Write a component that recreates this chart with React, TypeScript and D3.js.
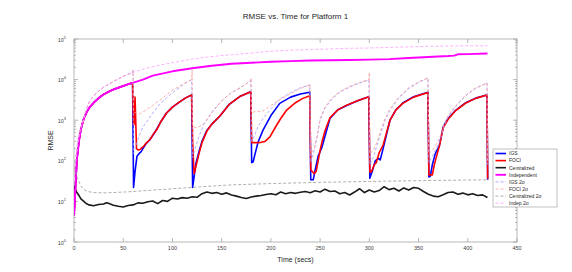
import React from 'react'
import * as d3 from 'd3'

type Pt = [number, number]

// x: time (secs), y: RMSE
const xTicks = [0, 50, 100, 150, 200, 250, 300, 350, 400, 450]
const yDecades = [0, 1, 2, 3, 4, 5]

const indep: Pt[] = [
  [0, 4.5], [1, 12], [2, 40], [3, 110], [5, 300], [7, 600], [10, 1100], [13, 1600],
  [16, 2100], [20, 2700], [25, 3500], [30, 4300], [35, 5000], [40, 5700], [45, 6300],
  [50, 7000], [55, 7700], [59.5, 8300], [70, 10000], [80, 12500], [100, 16000],
  [120, 19000], [140, 22000], [160, 24500], [180, 26000], [200, 27500], [220, 28500],
  [240, 29500], [260, 30000], [280, 30500], [300, 31000], [320, 32000], [340, 34000],
  [360, 36000], [380, 38000], [386, 39000], [390, 42000], [400, 42500], [420, 44000]
]

const indep2s: Pt[] = [
  [0, 40], [2, 120], [4, 300], [6, 550], [9, 900], [12, 1700], [16, 3000], [20, 4000],
  [25, 5200], [30, 6500], [35, 7600], [40, 9000], [50, 12000], [59.5, 15000], [70, 18000],
  [80, 21000], [100, 26000], [120, 32000], [140, 37000], [160, 41000], [180, 45000],
  [200, 50000], [220, 53000], [240, 55000], [260, 57000], [280, 59000], [300, 60000],
  [320, 62000], [340, 64000], [360, 66000], [380, 67000], [400, 68000], [420, 68000]
]

const igsAfter: Pt[] = [
  [60.5, 22], [62, 55], [64, 130], [66, 150], [68, 165], [70, 200], [73, 260], [77, 330],
  [80, 420], [84, 600], [88, 900], [94, 1500], [100, 2100], [107, 2800], [113, 3500], [119.5, 4200],
  [120.5, 22], [122, 40], [124, 90], [127, 170], [130, 300], [135, 560], [140, 800], [148, 1250],
  [158, 2500], [169, 3900], [179.5, 5000],
  [180.5, 90], [182, 95], [184, 150], [187, 290], [192, 570], [200, 1300], [209, 2600],
  [220, 3700], [230, 4400], [239.5, 4900],
  [240.5, 34], [243, 34], [245, 60], [248, 130], [252, 220], [256, 500], [260, 1100],
  [268, 1800], [277, 2300], [288, 3000], [299.5, 3800],
  [300.5, 37], [303, 55], [306, 100], [309, 115], [311, 105], [314, 200], [318, 500],
  [321, 1000], [327, 1800], [334, 2650], [345, 3800], [359.5, 4900],
  [360.5, 40], [362, 42], [364, 80], [367, 150], [371, 230], [375, 680], [380, 1100],
  [388, 1780], [398, 2700], [408, 3500], [419.5, 4200], [420.2, 34]
]

const fociAfter: Pt[] = [
  [60.5, 760], [61, 800], [62, 3700], [62.5, 1500], [63.5, 200], [65, 185], [67, 190],
  [69, 210], [71, 230], [73, 270], [77, 330], [80, 430], [84, 580], [88, 900], [94, 1500],
  [100, 2100], [107, 2800], [113, 3500], [119.5, 4200],
  [120.5, 300], [122, 48], [124, 75], [127, 150], [130, 280], [135, 540], [140, 800],
  [148, 1250], [158, 2500], [169, 3900], [179.5, 5000],
  [180.5, 280], [185, 280], [190, 285], [194, 300], [199, 390], [205, 700], [210, 1100],
  [216, 1780], [225, 2700], [232, 3400], [239.5, 4000],
  [240.5, 60], [244, 48], [246, 55], [248, 100], [250, 180], [252, 300], [255, 550],
  [260, 1150], [268, 1800], [277, 2350], [288, 3000], [299.5, 3800],
  [300.5, 53], [302, 53], [305, 80], [307, 90], [310, 160], [314, 245], [318, 550],
  [321, 1000], [327, 1800], [334, 2600], [345, 3700], [359.5, 4800],
  [360.5, 45], [364, 45], [366, 80], [369, 150], [371, 220], [375, 650], [380, 1050],
  [388, 1750], [398, 2650], [408, 3450], [419.5, 4200], [420.2, 36]
]

const igs2sAfter: Pt[] = [
  [60, 17000], [60.5, 150], [62, 200], [66, 400], [70, 680], [75, 1000], [80, 1500],
  [87, 2500], [94, 3500], [100, 4800], [107, 6300], [112, 8000], [119.5, 10000],
  [120.5, 120], [123, 200], [127, 400], [132, 800], [140, 1600], [150, 3000], [160, 4800],
  [169, 6300], [179.5, 9500],
  [180.5, 300], [183, 400], [187, 700], [192, 1100], [200, 1900], [209, 3300], [220, 4800],
  [230, 6300], [239.5, 7400],
  [240.5, 90], [243, 150], [246, 300], [250, 1000], [255, 2000], [262, 3300], [270, 4900],
  [280, 6500], [290, 8200], [299.5, 9800],
  [300.5, 80], [304, 120], [308, 250], [312, 500], [316, 1000], [321, 1780], [330, 3500],
  [340, 6000], [350, 8500], [359.5, 11000],
  [360.5, 90], [364, 130], [368, 200], [372, 320], [376, 700], [380, 1200], [388, 2200],
  [398, 4000], [408, 6000], [419.5, 8300], [420.2, 80]
]

const foci2sAfter: Pt[] = [
  [60, 17000], [60.5, 1600], [63, 1500], [66, 1400], [68, 1500], [72, 1700], [76, 2000],
  [80, 2300], [90, 3500], [100, 5500], [110, 7500], [119.5, 10000], [120, 17000],
  [120.5, 700], [125, 650], [130, 750], [135, 1000], [140, 1500], [150, 3000], [160, 4800],
  [169, 6300], [179.5, 9500], [180, 11000],
  [180.5, 1500], [185, 1700], [190, 1600], [195, 1900], [200, 2300], [210, 3300],
  [220, 4500], [230, 6000], [239.5, 7500],
  [240.5, 150], [244, 200], [247, 400], [250, 1100], [255, 2100], [262, 3500], [270, 5100],
  [280, 6800], [290, 8500], [299.5, 10000], [300, 15000],
  [300.5, 150], [304, 180], [308, 300], [312, 600], [316, 1100], [321, 1900], [330, 3700],
  [340, 6300], [350, 8800], [359.5, 11000],
  [360.5, 150], [364, 180], [368, 250], [372, 400], [376, 800], [380, 1300], [388, 2300],
  [398, 4200], [408, 6200], [419.5, 8300], [420.2, 100]
]

const central: Pt[] = [
  [0, 24], [2, 18], [5, 14], [7, 11.5], [10, 10], [12, 9], [15, 8.2], [20, 7.8], [25, 8.4],
  [30, 8.6], [33, 9.3], [35, 9.0], [40, 8.0], [45, 7.6], [50, 7.3], [55, 7.9], [60, 8.2],
  [65, 9.2], [70, 9.0], [75, 9.8], [80, 10.2], [85, 8.8], [90, 10.5], [95, 10.0], [100, 12.0],
  [105, 11.5], [110, 12.4], [115, 12.0], [120, 13.0], [125, 12.6], [130, 15.5], [135, 17.0],
  [140, 15.8], [145, 16.5], [150, 15.0], [155, 16.2], [160, 14.4], [165, 13.5], [170, 12.5],
  [175, 11.8], [180, 12.8], [185, 13.5], [190, 14.0], [195, 14.8], [200, 15.5], [205, 14.6],
  [210, 17.0], [215, 15.5], [220, 16.5], [225, 15.8], [230, 16.8], [235, 17.5], [240, 16.4],
  [245, 18.2], [250, 17.0], [255, 20.0], [260, 17.5], [265, 18.0], [270, 15.5], [275, 16.5],
  [280, 14.4], [285, 17.0], [290, 20.5], [295, 16.5], [300, 19.0], [305, 17.0], [310, 18.5],
  [315, 23.0], [320, 19.5], [325, 21.0], [330, 18.0], [335, 21.5], [340, 19.0], [345, 22.0],
  [350, 21.0], [355, 17.5], [360, 15.0], [365, 13.5], [370, 13.0], [375, 14.5], [380, 16.5],
  [385, 17.0], [390, 15.0], [395, 16.0], [400, 14.5], [405, 15.5], [410, 14.0], [415, 14.5],
  [420, 12.5]
]

const central2s: Pt[] = [
  [0, 70], [2, 50], [4, 35], [6, 27], [8, 22], [10, 19.5], [14, 17.5], [20, 16.5], [30, 16.2],
  [40, 16.5], [60, 17.5], [80, 19], [100, 20.5], [130, 23], [160, 25.5], [200, 27.5],
  [250, 29.5], [300, 31], [350, 32.5], [420, 34]
]

const before60 = (pts: Pt[]) => pts.filter((p) => p[0] < 60)

const series = [
  { name: 'IGS', data: [...before60(indep), ...igsAfter], color: '#0000ff', width: 1.6, dash: '' },
  { name: 'FOCI', data: [...before60(indep), ...fociAfter], color: '#ff0000', width: 1.6, dash: '' },
  { name: 'Centralized', data: central, color: '#1a1a1a', width: 1.6, dash: '' },
  { name: 'Independent', data: indep, color: '#ff00ff', width: 1.9, dash: '' },
  { name: 'IGS 2σ', data: [...before60(indep2s), ...igs2sAfter], color: '#9a9aff', width: 0.8, dash: '3,2' },
  { name: 'FOCI 2σ', data: [...before60(indep2s), ...foci2sAfter], color: '#ff9a9a', width: 0.8, dash: '3,2' },
  { name: 'Centralized 2σ', data: central2s, color: '#9a9a9a', width: 0.8, dash: '3,2' },
  { name: 'Indep 2σ', data: indep2s, color: '#ff9aff', width: 0.8, dash: '3,2' }
]

const W = 572
const H = 272
const left = 74
const right = 517
const top = 39
const bottom = 242

const App = () => {
  const x = d3.scaleLinear().domain([0, 450]).range([left, right])
  const y = d3.scaleLog().domain([1, 1e5]).range([bottom, top])
  const line = d3
    .line<Pt>()
    .x((d) => x(d[0]))
    .y((d) => y(d[1]))

  const minor: number[] = []
  yDecades.slice(0, -1).forEach((e) => {
    for (let k = 2; k < 10; k++) minor.push(k * Math.pow(10, e))
  })

  const axisColor = '#a6a6a6'
  const textColor = '#404040'
  const font = 'Liberation Sans, Arial, sans-serif'

  const legX = 493
  const legY = 149
  const rowH = 7.1

  return (
    <svg width={W} height={H} style={{ position: 'absolute', left: 0, top: 0 }} fontFamily={font}>
      <rect width={W} height={H} fill="#fff" />
      <defs>
        <clipPath id="plot">
          <rect x={left} y={top} width={right - left} height={bottom - top} />
        </clipPath>
      </defs>

      <text x={(left + right) / 2} y={19} textAnchor="middle" fontSize={8} fill="#262626">
        RMSE vs. Time for Platform 1
      </text>

      {/* frame and ticks */}
      <g stroke={axisColor} strokeWidth={0.8} fill="none">
        <rect x={left} y={top} width={right - left} height={bottom - top} />
        {xTicks.map((t) => (
          <g key={t}>
            <line x1={x(t)} x2={x(t)} y1={bottom} y2={bottom - 4} />
            <line x1={x(t)} x2={x(t)} y1={top} y2={top + 4} />
          </g>
        ))}
        {yDecades.map((e) => (
          <g key={e}>
            <line x1={left} x2={left + 4} y1={y(Math.pow(10, e))} y2={y(Math.pow(10, e))} />
            <line x1={right} x2={right - 4} y1={y(Math.pow(10, e))} y2={y(Math.pow(10, e))} />
          </g>
        ))}
        {minor.map((v) => (
          <g key={v}>
            <line x1={left} x2={left + 2} y1={y(v)} y2={y(v)} />
            <line x1={right} x2={right - 2} y1={y(v)} y2={y(v)} />
          </g>
        ))}
      </g>

      <g fontSize={5.5} fill={textColor}>
        {xTicks.map((t) => (
          <text key={t} x={x(t)} y={250} textAnchor="middle">
            {t}
          </text>
        ))}
        {yDecades.map((e) => (
          <text key={e} x={left - 8} y={y(Math.pow(10, e)) + 2.5} textAnchor="end">
            10
            <tspan dy={-3} fontSize={4}>
              {e}
            </tspan>
          </text>
        ))}
      </g>

      <text x={(left + right) / 2} y={262} textAnchor="middle" fontSize={7} fill="#262626">
        Time (secs)
      </text>
      <text
        transform={`translate(53, ${(top + bottom) / 2}) rotate(-90)`}
        textAnchor="middle"
        fontSize={7}
        fill="#262626"
      >
        RMSE
      </text>

      <g clipPath="url(#plot)" fill="none" strokeLinejoin="round">
        {series.map((s) => (
          <path
            key={s.name}
            d={line(s.data) || ''}
            stroke={s.color}
            strokeWidth={s.width}
            strokeDasharray={s.dash || undefined}
          />
        ))}
      </g>

      {/* legend */}
      <g>
        <rect x={legX} y={legY} width={64} height={58} fill="#fff" stroke={axisColor} strokeWidth={0.7} />
        {series.map((s, i) => {
          const ry = legY + 4.5 + i * rowH
          return (
            <g key={s.name}>
              <line
                x1={legX + 2.5}
                x2={legX + 13}
                y1={ry}
                y2={ry}
                stroke={s.color}
                strokeWidth={s.width}
                strokeDasharray={s.dash || undefined}
              />
              <text x={legX + 16} y={ry + 1.8} fontSize={5} fill="#262626">
                {s.name}
              </text>
            </g>
          )
        })}
      </g>
    </svg>
  )
}

export default App
